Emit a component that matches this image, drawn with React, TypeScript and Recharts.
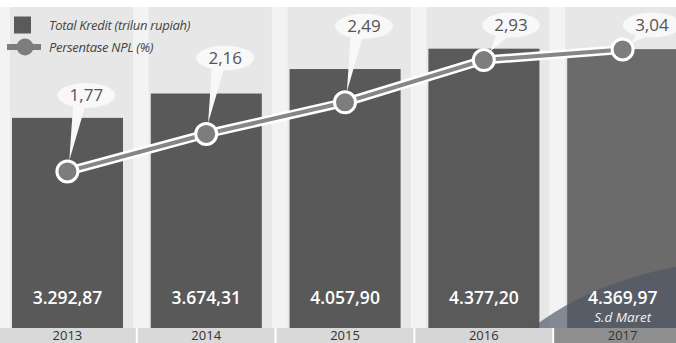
import React from 'react';
import { ComposedChart, Bar, Line, XAxis, YAxis, LabelList, Cell, Legend } from 'recharts';

// ---- data ----
const years = ['2013', '2014', '2015', '2016', '2017'];
const totalKredit = [3292.87, 3674.31, 4057.9, 4377.2, 4369.97];
const nplPercent = [1.77, 2.16, 2.49, 2.93, 3.04];
const kreditNotes = ['', '', '', '', 'S.d Maret'];
const legendLabels = ['Total Kredit (trilun rupiah)', 'Persentase NPL (%)'];

const data = years.map((year, i) => ({
  year,
  kredit: totalKredit[i],
  npl: nplPercent[i],
  note: kreditNotes[i],
}));

// ---- style ----
const CHART_W = 694;
const CHART_H = 343;
const FONT = '"Open Sans", "Noto Sans", sans-serif';
const barColors = ['#595959', '#595959', '#595959', '#5a5a5a', '#6b6b6b'];
const tickBandColors = ['#d9d9d9', '#d9d9d9', '#d9d9d9', '#d6d6d6', '#8e8e8e'];

const fmtKredit = (v: number) => {
  const [i, d] = v.toFixed(2).split('.');
  return i.replace(/\B(?=(\d{3})+(?!\d))/g, '.') + ',' + d;
};
const fmtNpl = (v: number) => v.toFixed(2).replace('.', ',');

const BarBackground = (props: any) => {
  const { x, y, width, height } = props;
  return (
    <g>
      <rect x={x - 17} y={y + 7} width={width + 28} height={height - 7} fill="#f3f3f3" />
      <rect x={x - 2} y={y + 7} width={width + 12} height={height - 7} fill="#e7e7e7" />
    </g>
  );
};

const BarShape = (props: any) => {
  const { x, y, width, height, fill, index } = props;
  const bottom = y + height;
  return (
    <g>
      <rect x={x} y={y} width={width} height={height} fill={fill} />
      {index === years.length - 1 && (
        <g>
          <defs>
            <clipPath id="plotClip">
              <rect x={-50} y={0} width={2000} height={bottom} />
            </clipPath>
          </defs>
          <ellipse
            cx={x + width / 2 + 138}
            cy={bottom + 112}
            rx={291}
            ry={181}
            fill="rgb(80,86,100)"
            fillOpacity={0.68}
            clipPath="url(#plotClip)"
          />
        </g>
      )}
    </g>
  );
};

const BarValueLabel = (props: any) => {
  const { x, y, width, height, value, index } = props;
  const cx = x + width / 2;
  const bottom = y + height;
  const note = kreditNotes[index];
  return (
    <g>
      <text x={cx} y={bottom - 24} textAnchor="middle" fill="#ffffff" fontFamily={FONT} fontWeight={600} fontSize={17.5}>
        {fmtKredit(value)}
      </text>
      {note ? (
        <text x={cx} y={bottom - 6} textAnchor="middle" fill="#f2f2f2" fontFamily={FONT} fontStyle="italic" fontSize={13.5}>
          {note}
        </text>
      ) : null}
    </g>
  );
};

const BubbleLabel = (props: any) => {
  const { x, y, value } = props;
  const by = Math.max(y - 76, 25);
  const dy = y - by;
  const bx = x + 19 + (76 - dy) * 0.2;
  const base1x = bx - 13, base1y = by + 5;
  const base2x = bx - 1, base2y = by + 10;
  const mx = (base1x + base2x) / 2, my = (base1y + base2y) / 2;
  const len = Math.hypot(mx - x, my - y);
  const tx = x + ((mx - x) / len) * 11;
  const ty = y + ((my - y) / len) * 11;
  return (
    <g>
      <path d={`M${base1x},${base1y} L${base2x},${base2y} L${tx},${ty} Z`} fill="#f8f8f8" />
      <ellipse cx={bx} cy={by} rx={29} ry={12.5} fill="#f8f8f8" />
      <text x={bx} y={by + 6} textAnchor="middle" fill="#555555" fontFamily={FONT} fontSize={17}>
        {fmtNpl(value)}
      </text>
    </g>
  );
};

const NplDot = (props: any) => {
  const { cx, cy, index } = props;
  return <circle key={`dot-${index}`} cx={cx} cy={cy} r={10.5} fill="#7d7d7d" stroke="#ffffff" strokeWidth={3} />;
};

const YearTick = (props: any) => {
  const { x, y, payload, index } = props;
  const band = CHART_W / years.length;
  return (
    <g>
      <rect x={x - band / 2 + 1} y={y} width={band - 2} height={15} fill={tickBandColors[index]} />
      <text x={x} y={y + 11.5} textAnchor="middle" fill="#333333" fontFamily={FONT} fontSize={13}>
        {payload.value}
      </text>
    </g>
  );
};

const LegendContent = () => (
  <div style={{ fontFamily: FONT, fontStyle: 'italic', fontSize: 13, color: '#444444', letterSpacing: -0.3 }}>
    <div style={{ display: 'flex', alignItems: 'center', height: 22 }}>
      <svg width={36} height={22} style={{ display: 'block' }}>
        <rect x={7} y={2.5} width={17} height={17} fill="#5a5a5a" />
      </svg>
      <span style={{ marginLeft: 6, lineHeight: '22px' }}>{legendLabels[0]}</span>
    </div>
    <div style={{ display: 'flex', alignItems: 'center', height: 22 }}>
      <svg width={36} height={22} style={{ display: 'block' }}>
        <line x1={0} y1={11} x2={34} y2={11} stroke="#7d7d7d" strokeWidth={6} />
        <circle cx={18} cy={11} r={8.5} fill="#7d7d7d" />
      </svg>
      <span style={{ marginLeft: 6, lineHeight: '22px' }}>{legendLabels[1]}</span>
    </div>
  </div>
);

export default function App() {
  return (
    <div style={{ position: 'absolute', left: 0, top: 0, width: 676, height: 343, overflow: 'hidden', background: '#ffffff' }}>
      <div style={{ position: 'absolute', left: -2, top: 0 }}>
        <ComposedChart
          width={CHART_W}
          height={CHART_H}
          data={data}
          margin={{ top: 0, right: 0, bottom: 0, left: 0 }}
          style={{ fontFamily: FONT }}
        >
          <XAxis
            dataKey="year"
            height={15}
            axisLine={false}
            tickLine={false}
            tickSize={0}
            tickMargin={0}
            interval={0}
            tick={<YearTick />}
          />
          <YAxis yAxisId="left" hide domain={[0, 5140]} />
          <YAxis yAxisId="right" orientation="right" hide domain={[0.14, 3.555]} allowDataOverflow />
          <Legend
            layout="vertical"
            verticalAlign="middle"
            align="center"
            content={<LegendContent />}
            wrapperStyle={{ top: 14, left: 9, width: 260, height: 44 }}
          />
          <Bar
            dataKey="kredit"
            yAxisId="left"
            barSize={111}
            isAnimationActive={false}
            background={<BarBackground />}
            shape={<BarShape />}
          >
            {data.map((d, i) => (
              <Cell key={d.year} fill={barColors[i]} />
            ))}
            <LabelList dataKey="kredit" content={<BarValueLabel />} />
          </Bar>
          <Line
            dataKey="npl"
            yAxisId="right"
            type="linear"
            stroke="#ffffff"
            strokeWidth={9}
            dot={false}
            activeDot={false}
            isAnimationActive={false}
          >
            <LabelList dataKey="npl" content={<BubbleLabel />} />
          </Line>
          <Line
            dataKey="npl"
            yAxisId="right"
            type="linear"
            stroke="#868686"
            strokeWidth={4}
            dot={<NplDot />}
            activeDot={false}
            isAnimationActive={false}
            legendType="none"
          />
        </ComposedChart>
      </div>
    </div>
  );
}
